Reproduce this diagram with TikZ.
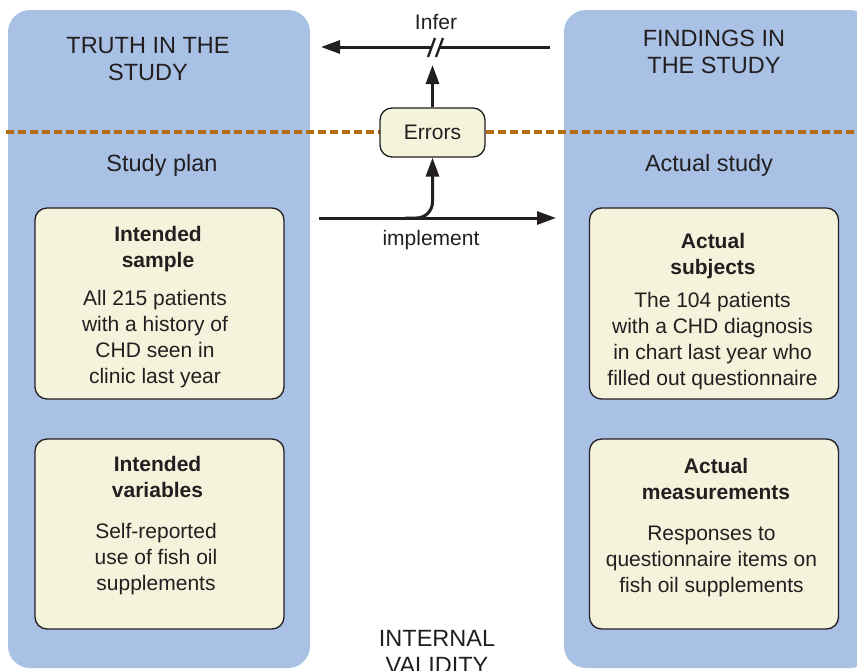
\documentclass[tikz,border=0pt]{standalone}
\usepackage{fontspec}
\setmainfont{Liberation Sans}
\usetikzlibrary{arrows.meta}
\definecolor{panelblue}{HTML}{A8C1E5}
\definecolor{boxfill}{HTML}{F4F3DC}
\definecolor{dashorange}{HTML}{B56F12}
\definecolor{ink}{HTML}{231F20}
\tikzset{
  panel/.style={fill=panelblue, draw=none, rounded corners=22pt},
  infobox/.style={draw=ink, line width=1.3pt, fill=boxfill, rounded corners=12pt, minimum width=249pt, inner sep=0pt},
  bodytxt/.style={font=\fontsize{21}{26}\selectfont, text=ink, align=center, inner sep=0pt},
  headtxt/.style={font=\fontsize{21}{25.5}\selectfont\bfseries, text=ink, align=center, inner sep=0pt},
  bigtxt/.style={font=\fontsize{23.5}{26.5}\selectfont, text=ink, align=center, inner sep=0pt},
  conn/.style={draw=ink, line width=3pt},
  arr/.style={conn, -{Triangle[length=19pt,width=13pt]}},
  divider/.style={draw=dashorange, line width=4pt, dash pattern=on 8pt off 4pt}
}
\begin{document}
\begin{tikzpicture}[x=1pt,y=-1pt]
\useasboundingbox (0,0) rectangle (857,670);
% panels
\path[panel] (8,10) rectangle (310,668);
\path[panel] (564,10) rectangle (872,668);
% divider
\draw[divider] (6,132) -- (857,132);
% headers
\node[bigtxt] (truth) at (148,59) {TRUTH IN THE\\STUDY};
\node[bigtxt] (findings) at (714,52) {FINDINGS IN\\THE STUDY};
\node[bigtxt] (plan) at (162,165) {Study plan};
\node[bigtxt] (actual) at (709,165) {Actual study};
\node[bigtxt] (internal) at (437,652) {INTERNAL\\VALIDITY};
% boxes
\node[infobox, minimum height=191pt] (sampleBox) at (159.5,303.5) {};
\node[infobox, minimum height=191pt] (subjectsBox) at (714,303.5) {};
\node[infobox, minimum height=190pt] (varsBox) at (159.5,534) {};
\node[infobox, minimum height=190pt] (measBox) at (714,534) {};
% box texts
\node[headtxt] (sampleHead) at (158,249) {Intended\\sample};
\node[bodytxt] (sampleBody) at (155,339) {All 215 patients\\with a history of\\CHD seen in\\clinic last year};
\node[headtxt] (subjectsHead) at (713,256) {Actual\\subjects};
\node[bodytxt] (subjectsBody) at (712.5,341) {The 104 patients\\with a CHD diagnosis\\in chart last year who\\filled out questionnaire};
\node[headtxt] (varsHead) at (157.5,477) {Intended\\variables};
\node[bodytxt] (varsBody) at (156,559) {Self-reported\\use of fish oil\\supplements};
\node[headtxt] (measHead) at (716,479) {Actual\\measurements};
\node[bodytxt] (measBody) at (711.5,561) {Responses to\\questionnaire items on\\fish oil supplements};
% errors box
\node[draw=ink, line width=1.3pt, fill=boxfill, rounded corners=12pt, minimum width=105pt, minimum height=49pt, inner sep=0pt, font=\fontsize{21}{25}\selectfont, text=ink] (errors) at (432.5,132.5) {Errors};
% infer arrow with break
\coordinate (inferStart) at (550,47);
\coordinate (gapR) at (439,47);
\coordinate (gapL) at (432,47);
\coordinate (inferTip) at (321,47);
\draw[conn] (inferStart) -- (gapR);
\draw[arr] (gapL) -- (inferTip);
\draw[draw=ink, line width=2.3pt] (428,57) -- (435,38);
\draw[draw=ink, line width=2.3pt] (436,57) -- (443,38);
\node[bodytxt] (inferLbl) at (436,22) {Infer};
% errors up to infer
\coordinate (upTip) at (432.5,65);
\draw[arr] (errors.north) -- (upTip);
% implement arrow
\coordinate (implStart) at (319,218);
\coordinate (implEnd) at (556,218);
\coordinate (branch) at (405,218);
\draw[arr] (implStart) -- (implEnd);
\draw[arr, rounded corners=16pt] (branch) -| (errors.south);
\node[bodytxt] (implLbl) at (431,240) {implement};
\end{tikzpicture}
\end{document}
